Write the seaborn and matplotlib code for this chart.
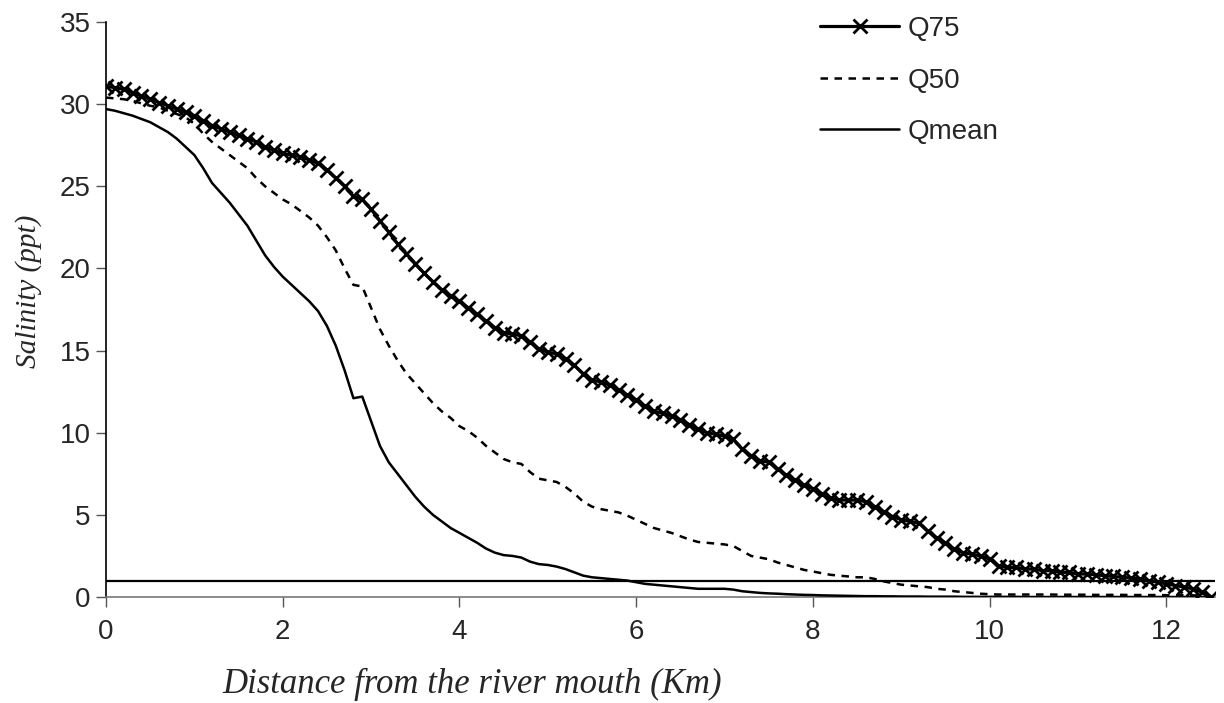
import numpy as np
import pandas as pd
import matplotlib
matplotlib.use("Agg")
import matplotlib.pyplot as plt
import seaborn as sns

# ---- data ----
distance_km = [round(0.1 * i, 1) for i in range(126)]

q75 = [31.1, 31.0, 30.9, 30.7, 30.5, 30.3, 30.1, 29.9, 29.7, 29.5,
       29.3, 29.0, 28.7, 28.5, 28.3, 28.1, 27.9, 27.7, 27.4, 27.2,
       27.0, 26.9, 26.8, 26.6, 26.4, 26.0, 25.5, 25.0, 24.4, 24.2,
       23.6, 22.9, 22.2, 21.5, 20.9, 20.3, 19.7, 19.2, 18.7, 18.3,
       18.0, 17.6, 17.2, 16.8, 16.4, 16.1, 16.0, 15.9, 15.5, 15.1,
       14.9, 14.8, 14.5, 14.1, 13.6, 13.2, 13.1, 12.9, 12.6, 12.3,
       12.0, 11.6, 11.3, 11.2, 11.0, 10.8, 10.5, 10.2, 10.0, 9.9,
       9.8, 9.6, 9.0, 8.6, 8.3, 8.2, 7.8, 7.4, 7.1, 6.8,
       6.6, 6.3, 6.0, 5.9, 5.9, 5.9, 5.8, 5.5, 5.2, 4.9,
       4.7, 4.6, 4.5, 4.0, 3.6, 3.3, 2.9, 2.7, 2.6, 2.5,
       2.3, 1.9, 1.8, 1.8, 1.7, 1.7, 1.6, 1.6, 1.5, 1.5,
       1.4, 1.4, 1.35, 1.3, 1.25, 1.2, 1.15, 1.1, 1.0, 0.9,
       0.8, 0.7, 0.6, 0.5, 0.3, 0.0]

q50 = [30.4, 30.35, 30.3, 30.2, 30.05, 29.9, 29.8, 29.6, 29.4, 29.2,
       28.8, 28.2, 27.7, 27.3, 26.9, 26.5, 26.1, 25.5, 25.0, 24.6,
       24.2, 23.9, 23.5, 23.1, 22.6, 21.9, 21.1, 20.0, 19.0, 18.9,
       17.6, 16.3, 15.3, 14.4, 13.6, 13.0, 12.4, 11.8, 11.3, 10.9,
       10.4, 10.1, 9.7, 9.2, 8.8, 8.4, 8.2, 8.1, 7.6, 7.2,
       7.1, 7.0, 6.7, 6.3, 5.8, 5.5, 5.35, 5.25, 5.15, 4.95,
       4.7, 4.45, 4.2, 4.05, 3.9, 3.7, 3.5, 3.35, 3.3, 3.25,
       3.2, 3.1, 2.8, 2.5, 2.4, 2.3, 2.1, 1.95, 1.8, 1.65,
       1.55, 1.45, 1.35, 1.3, 1.25, 1.2, 1.2, 1.1, 0.95, 0.85,
       0.75, 0.7, 0.65, 0.6, 0.5, 0.45, 0.35, 0.3, 0.25, 0.2,
       0.17, 0.15, 0.15, 0.15, 0.15, 0.15, 0.15, 0.15, 0.14, 0.14,
       0.14, 0.14, 0.13, 0.13, 0.13, 0.13, 0.12, 0.12, 0.12, 0.12,
       0.11, 0.11, 0.11, 0.1, 0.1, 0.1]

qmean = [29.7, 29.6, 29.45, 29.3, 29.1, 28.9, 28.6, 28.3, 27.9, 27.4,
         26.9, 26.1, 25.2, 24.6, 24.0, 23.3, 22.6, 21.7, 20.8, 20.1,
         19.5, 19.0, 18.5, 18.0, 17.4, 16.5, 15.3, 13.8, 12.1, 12.2,
         10.7, 9.2, 8.2, 7.5, 6.8, 6.1, 5.5, 5.0, 4.6, 4.2,
         3.9, 3.6, 3.3, 2.95, 2.7, 2.55, 2.5, 2.4, 2.15, 2.0,
         1.95, 1.85, 1.7, 1.5, 1.3, 1.2, 1.15, 1.1, 1.05, 1.0,
         0.9, 0.8, 0.75, 0.7, 0.65, 0.6, 0.55, 0.5, 0.5, 0.5,
         0.5, 0.45, 0.35, 0.3, 0.25, 0.22, 0.2, 0.17, 0.15, 0.13,
         0.12, 0.1, 0.09, 0.08, 0.07, 0.06, 0.05, 0.05, 0.04, 0.04,
         0.03, 0.03, 0.03, 0.02, 0.02, 0.02, 0.02, 0.01, 0.01, 0.01,
         0.01, 0.01, 0.01, 0.01, 0.0, 0.0, 0.0, 0.0, 0.0, 0.0,
         0.0, 0.0, 0.0, 0.0, 0.0, 0.0, 0.0, 0.0, 0.0, 0.0,
         0.0, 0.0, 0.0, 0.0, 0.0, 0.0]

threshold = 1.0
series_names = ["Q75", "Q50", "Qmean"]
x_ticks = [0, 2, 4, 6, 8, 10, 12]
y_ticks = [0, 5, 10, 15, 20, 25, 30, 35]

sns.set_theme(style="ticks")
plt.rcParams["font.family"] = ["Liberation Sans", "DejaVu Sans"]

fig = plt.figure(figsize=(12.24, 7.03), dpi=100)
ax = fig.add_axes([106 / 1224, 1 - 597 / 703, (1215 - 106) / 1224, (597 - 22) / 703])

ax.axhline(threshold, color="black", lw=1.6, zorder=1)

sns.lineplot(x=distance_km, y=qmean, color="black", lw=1.8, ax=ax, label=series_names[2],
             estimator=None, sort=False, zorder=3)
sns.lineplot(x=distance_km, y=q50, color="black", lw=1.8, ax=ax, label=series_names[1],
             estimator=None, sort=False, zorder=3)
sns.lineplot(x=distance_km, y=q75, color="black", lw=2.3, ax=ax, label=series_names[0],
             estimator=None, sort=False, zorder=4)

lines = ax.get_lines()
ln_mean, ln_50, ln_75 = lines[1], lines[2], lines[3]
ln_50.set_dashes([3.0, 2.6])
ln_75.set_marker("x")
ln_75.set_markersize(10)
ln_75.set_markeredgewidth(2.0)
ln_75.set_markeredgecolor("black")
ax.get_legend().remove()

ax.set_xlim(0, 12.55)
ax.set_ylim(0, 35)
ax.set_xticks(x_ticks)
ax.set_yticks(y_ticks)
ax.tick_params(axis="both", labelsize=20, length=7, width=1, color="#555555", direction="out")
ax.tick_params(axis="y", pad=4)
ax.tick_params(axis="x", pad=9)
for s in ["top", "right"]:
    ax.spines[s].set_visible(False)
ax.spines["left"].set_color("black")
ax.spines["left"].set_linewidth(1.2)
ax.spines["bottom"].set_color("#777777")
ax.spines["bottom"].set_linewidth(1.2)

ax.set_xlabel("Distance from the river mouth (Km)", fontsize=25, family="Liberation Serif",
              style="italic")
ax.xaxis.set_label_coords((472 - 106) / 1109, -(668 - 597) / 575)
ax.set_ylabel("Salinity (ppt)", fontsize=21, family="Liberation Serif", style="italic")
ax.yaxis.set_label_coords(-(106 - 42) / 1109, (597 - 291) / 575)

leg = fig.legend([ln_75, ln_50, ln_mean], series_names, loc="upper left",
                 bbox_to_anchor=(820 / 1224, 1 - 16 / 703), bbox_transform=fig.transFigure,
                 frameon=False, fontsize=20, handlelength=2.85, handletextpad=0.3,
                 labelspacing=0.92, borderpad=0, borderaxespad=0, numpoints=1)

fig.savefig("out.png", dpi=100)
